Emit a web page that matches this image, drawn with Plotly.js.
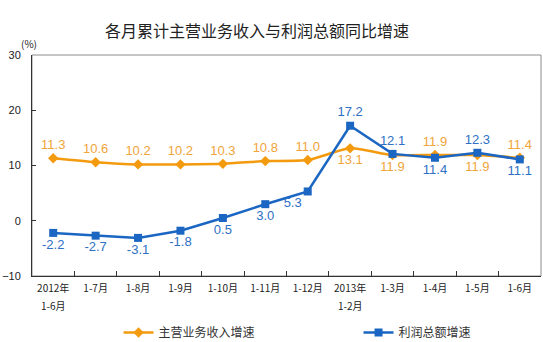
<!DOCTYPE html>
<html><head><meta charset="utf-8">
<script src="https://cdn.plot.ly/plotly-3.0.1.min.js"></script>
<style>html,body{margin:0;padding:0;background:#fff}</style>
</head><body><div id="chart" style="width:543px;height:342px"></div>
<script>
const categories = ["2012年<br>1-6月","1-7月","1-8月","1-9月","1-10月","1-11月","1-12月","2013年<br>1-2月","1-3月","1-4月","1-5月","1-6月"];
const revenueGrowth = [11.3,10.6,10.2,10.2,10.3,10.8,11.0,13.1,11.9,11.9,11.9,11.4];
const profitGrowth = [-2.2,-2.7,-3.1,-1.8,0.5,3.0,5.3,17.2,12.1,11.4,12.3,11.1];
const revenueName = "主营业务收入增速";
const profitName = "利润总额增速";
const revPos = ["top center","top center","top center","top center","top center","top center","top center","bottom center","bottom center","top center","bottom center","top center"];
const profPos = ["bottom center","bottom center","bottom center","bottom center","bottom center","bottom center","bottom left","top center","top center","bottom center","top center","bottom center"];
const font = "Noto Sans CJK SC, sans-serif";
const firstLines = categories.map(c => c.split("<br>")[0]);
const secondLineAnn = [];
categories.forEach(c => {
  const parts = c.split("<br>");
  if (parts.length > 1) secondLineAnn.push({text: parts[1], x: c, xref: "x", yref: "paper", y: 0, yshift: -20, yanchor: "top", xanchor: "center", showarrow: false, font: {family: font, size: 10, color: "#222"}});
});
const traces = [
 {x: categories, y: revenueGrowth, name: revenueName, type: "scatter", mode: "lines+markers+text",
  line: {color: "#F39A0E", width: 2.5, shape: "spline", smoothing: 0.6},
  marker: {symbol: "diamond", size: 8, color: "#F39A0E"},
  text: revenueGrowth.map(v => v.toFixed(1)), textposition: revPos,
  textfont: {family: "Liberation Sans, Arial, sans-serif", size: 13, color: "#F0A43A"}, cliponaxis: false},
 {x: categories, y: profitGrowth, name: profitName, type: "scatter", mode: "lines+markers+text",
  line: {color: "#1A66C2", width: 2.5},
  marker: {symbol: "square", size: 8, color: "#1A66C2"},
  text: profitGrowth.map(v => v.toFixed(1)), textposition: profPos,
  textfont: {family: "Liberation Sans, Arial, sans-serif", size: 13, color: "#2E70C4"}, cliponaxis: false}
];
const layout = {
 width: 543, height: 342,
 margin: {l: 32, r: 2, t: 55, b: 66, autoexpand: false},
 paper_bgcolor: "#fff", plot_bgcolor: "#fff",
 title: {text: "各月累计主营业务收入与利润总额同比增速", x: 257/543, xref: "container", xanchor: "center", y: 0.925, yanchor: "top", yref: "container", font: {family: font, size: 16, color: "#222"}},
 xaxis: {type: "category", showgrid: false, showline: true, linecolor: "#333", linewidth: 1,
  ticks: "inside", ticklen: 5, tickcolor: "#333", tickson: "boundaries", ticklabelstandoff: 3,
  tickvals: categories, ticktext: firstLines,
  tickfont: {family: font, size: 10, color: "#222"}, range: [-0.5, 11.5], fixedrange: true},
 yaxis: {range: [-10, 30], dtick: 10, showgrid: false, zeroline: false, showline: true, linecolor: "#333", linewidth: 1,
  ticks: "inside", ticklen: 4, tickcolor: "#333", ticklabelstandoff: 8,
  tickfont: {family: "Liberation Sans, Arial, sans-serif", size: 11, color: "#222"}},
 shapes: [{type: "rect", xref: "paper", yref: "paper", x0: 0, x1: 1, y0: 0, y1: 1, line: {color: "#8c8c8c", width: 1}, layer: "below"}],
 annotations: [{text: "(%)", xref: "paper", yref: "paper", x: -0.025, y: 1.01, xanchor: "left", yanchor: "bottom", showarrow: false, font: {family: font, size: 10, color: "#222"}}].concat(secondLineAnn),
 showlegend: true,
 legend: {orientation: "h", x: 0.17, xanchor: "left", y: -0.19, yanchor: "top", font: {family: font, size: 12, color: "#333"}, itemwidth: 30, entrywidth: 195, entrywidthmode: "pixels"},
};
Plotly.newPlot("chart", traces, layout, {displayModeBar: false, staticPlot: true});
</script></body></html>
